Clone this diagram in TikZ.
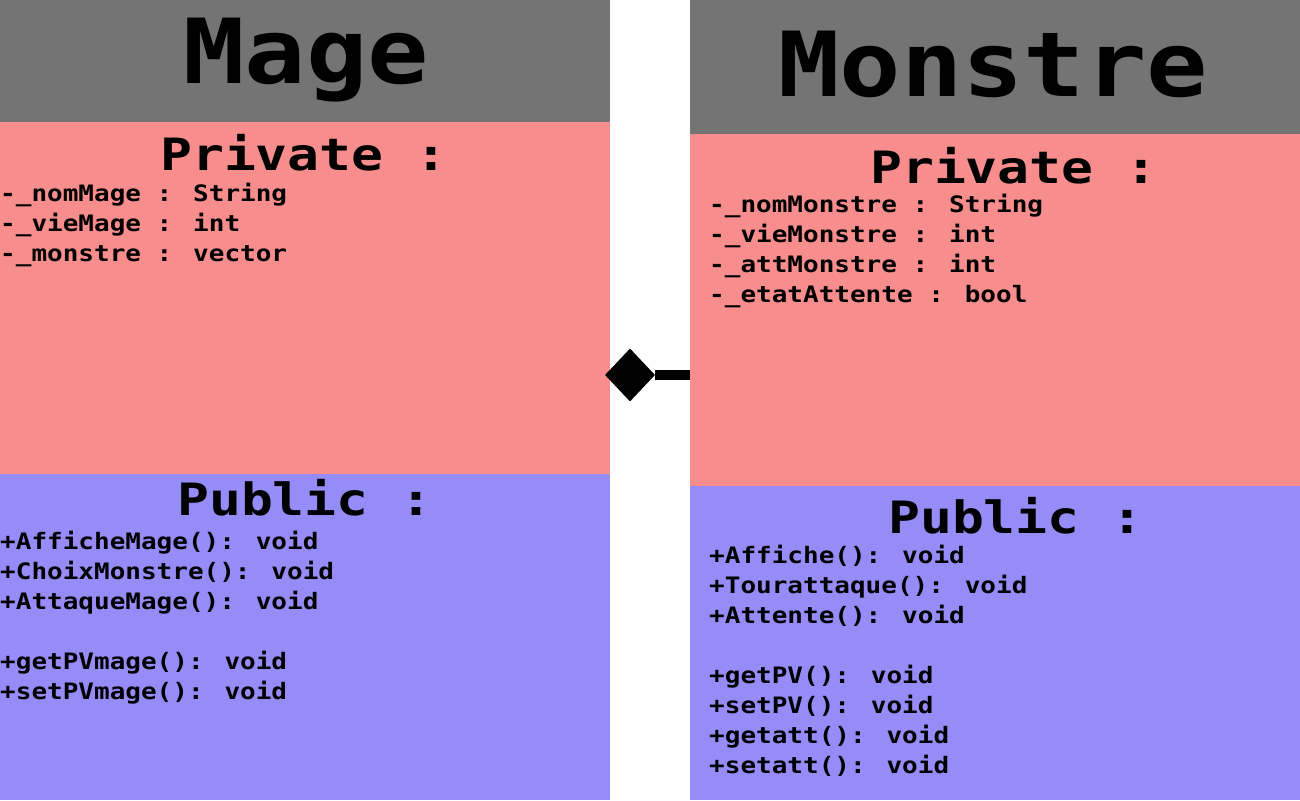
\documentclass[tikz,border=0pt]{standalone}
\usepackage{fontspec}
\usetikzlibrary{shapes.geometric}
\newfontfamily\monofont{DejaVu Sans Mono}
\definecolor{hdgray}{RGB}{116,116,116}
\definecolor{privred}{RGB}{247,141,141}
\definecolor{pubblue}{RGB}{150,140,247}
\newcommand{\itm}[1]{\scalebox{1}[0.87]{#1}}
\newcommand{\hdg}[1]{\scalebox{1}[0.84]{#1}}
\newcommand{\ttl}[1]{\scalebox{1}[0.88]{#1}}
\begin{document}
\begin{tikzpicture}[x=1pt,y=-1pt,
  sect/.style={anchor=north west, inner sep=0pt, outer sep=0pt, minimum width=610pt},
  item/.style={anchor=base west, inner sep=0pt, font=\monofont\bfseries\fontsize{26}{30}\selectfont},
  heading/.style={anchor=base west, inner sep=0pt, font=\monofont\bfseries\fontsize{53}{60}\selectfont},
  titletext/.style={anchor=base west, inner sep=0pt, font=\monofont\bfseries\fontsize{102}{110}\selectfont},
]
\useasboundingbox (0,0) rectangle (1300,800);
% Mage class
\node[sect, fill=hdgray, minimum height=122pt] (mageHead) at (0,0) {};
\node[sect, fill=privred, minimum height=352pt] (magePriv) at (0,122) {};
\node[sect, fill=pubblue, minimum height=326pt] (magePub) at (0,474) {};
% Monstre class
\node[sect, fill=hdgray, minimum height=134pt] (monHead) at (690,0) {};
\node[sect, fill=privred, minimum height=352pt] (monPriv) at (690,134) {};
\node[sect, fill=pubblue, minimum height=314pt] (monPub) at (690,486) {};
% titles
\node[titletext] (mageTitle) at (183,83) {\ttl{Mage}};
\node[titletext] (monTitle) at (778,96) {\ttl{Monstre}};
% headings
\node[heading] (magePrivH) at (160,170) {\hdg{Private :}};
\node[heading] (monPrivH) at (870,183) {\hdg{Private :}};
\node[heading] (magePubH) at (177,515) {\hdg{Public :}};
\node[heading] (monPubH) at (888,533) {\hdg{Public :}};
% Mage private
\node[item] (mp1) at (0,201) {\itm{-\_nomMage : String}};
\node[item] (mp2) at (0,231) {\itm{-\_vieMage : int}};
\node[item] (mp3) at (0,261) {\itm{-\_monstre : vector}};
% Mage public
\node[item] (mq1) at (0,549) {\itm{+AfficheMage(): void}};
\node[item] (mq2) at (0,579) {\itm{+ChoixMonstre(): void}};
\node[item] (mq3) at (0,609) {\itm{+AttaqueMage(): void}};
\node[item] (mq4) at (0,669) {\itm{+getPVmage(): void}};
\node[item] (mq5) at (0,699) {\itm{+setPVmage(): void}};
% Monstre private
\node[item] (np1) at (709,212) {\itm{-\_nomMonstre : String}};
\node[item] (np2) at (709,242) {\itm{-\_vieMonstre : int}};
\node[item] (np3) at (709,272) {\itm{-\_attMonstre : int}};
\node[item] (np4) at (709,302) {\itm{-\_etatAttente : bool}};
% Monstre public
\node[item] (nq1) at (709,563) {\itm{+Affiche(): void}};
\node[item] (nq2) at (709,593) {\itm{+Tourattaque(): void}};
\node[item] (nq3) at (709,623) {\itm{+Attente(): void}};
\node[item] (nq4) at (709,683) {\itm{+getPV(): void}};
\node[item] (nq5) at (709,713) {\itm{+setPV(): void}};
\node[item] (nq6) at (709,743) {\itm{+getatt(): void}};
\node[item] (nq7) at (709,773) {\itm{+setatt(): void}};
% composition
\node[diamond, fill=black, inner sep=0pt, minimum width=50pt, minimum height=53pt] (comp) at (630,375) {};
\draw[line width=10pt] (comp.east) -- (comp.east -| monPriv.west);
\end{tikzpicture}
\end{document}
